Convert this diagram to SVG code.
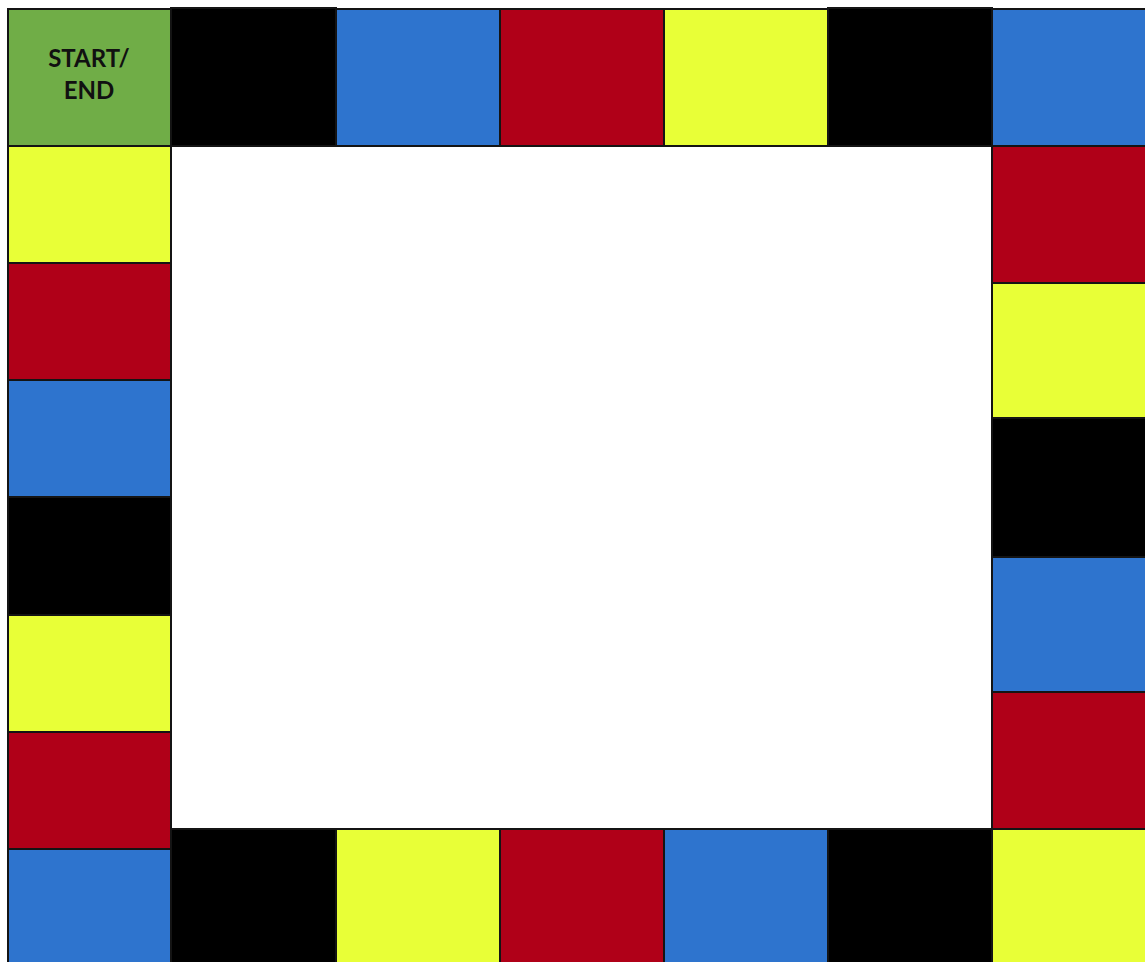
<svg xmlns="http://www.w3.org/2000/svg" width="1145" height="962" viewBox="0 0 1145 962">
<style>
.t{stroke:#141414;stroke-width:2}
.g{fill:#70AD47}.y{fill:#E8FF37}.r{fill:#B00018}.b{fill:#2E74CE}.k{fill:#000}
text{font-family:Lato,"Liberation Sans",sans-serif;font-weight:bold;font-size:24px;fill:#111;text-anchor:middle}
</style>
<g id="top">
<g id="t0"><rect class="t g" x="8" y="9" width="163" height="137"/><text x="89" y="67">START/</text><text x="89" y="99">END</text></g>
<rect id="t1" class="t k" x="171" y="8" width="165" height="138"/>
<rect id="t2" class="t b" x="336" y="9" width="164" height="137"/>
<rect id="t3" class="t r" x="500" y="9" width="164" height="137"/>
<rect id="t4" class="t y" x="664" y="9" width="164" height="137"/>
<rect id="t5" class="t k" x="828" y="8" width="164" height="138"/>
<rect id="t6" class="t b" x="992" y="9" width="165" height="137"/>
</g>
<g id="right">
<rect id="r1" class="t r" x="992" y="146" width="165" height="137"/>
<rect id="r2" class="t y" x="992" y="283" width="165" height="135"/>
<rect id="r3" class="t k" x="992" y="418" width="165" height="139"/>
<rect id="r4" class="t b" x="992" y="557" width="165" height="135"/>
<rect id="r5" class="t r" x="992" y="692" width="165" height="137"/>
<rect id="r6" class="t y" x="992" y="829" width="165" height="140"/>
</g>
<g id="bottom">
<rect id="b1" class="t k" x="171" y="829" width="165" height="140"/>
<rect id="b2" class="t y" x="336" y="829" width="164" height="140"/>
<rect id="b3" class="t r" x="500" y="829" width="164" height="140"/>
<rect id="b4" class="t b" x="664" y="829" width="164" height="140"/>
<rect id="b5" class="t k" x="828" y="829" width="164" height="140"/>
</g>
<g id="left">
<rect id="l1" class="t y" x="8" y="146" width="163" height="117"/>
<rect id="l2" class="t r" x="8" y="263" width="163" height="117"/>
<rect id="l3" class="t b" x="8" y="380" width="163" height="117"/>
<rect id="l4" class="t k" x="8" y="497" width="163" height="118"/>
<rect id="l5" class="t y" x="8" y="615" width="163" height="117"/>
<rect id="l6" class="t r" x="8" y="732" width="163" height="117"/>
<rect id="l7" class="t b" x="8" y="849" width="163" height="120"/>
</g>
<g id="connectors"/>
</svg>
